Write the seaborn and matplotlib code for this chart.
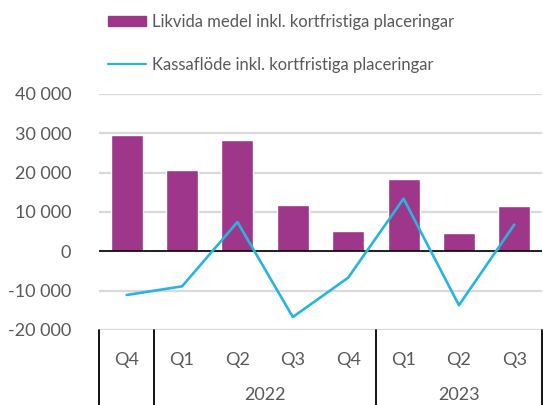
import matplotlib
matplotlib.use("Agg")
import matplotlib.pyplot as plt
import seaborn as sns
import pandas as pd
from matplotlib.lines import Line2D
from matplotlib.patches import Patch
from matplotlib.ticker import FuncFormatter

# ---- data ----
periods = ["2021 Q4", "2022 Q1", "2022 Q2", "2022 Q3", "2022 Q4", "2023 Q1", "2023 Q2", "2023 Q3"]
quarters = ["Q4", "Q1", "Q2", "Q3", "Q4", "Q1", "Q2", "Q3"]
years = ["2022", "2023"]
liquid = [29700, 20800, 28300, 11700, 5100, 18400, 4700, 11450]
cashflow = [-11100, -8900, 7450, -16700, -6700, 13400, -13700, 6800]
bar_label = "Likvida medel inkl. kortfristiga placeringar"
line_label = "Kassaflöde inkl. kortfristiga placeringar"

df = pd.DataFrame({"period": periods, "liquid": liquid, "cashflow": cashflow})
df["pos"] = range(len(df))

sns.set_theme(style="white")
plt.rcParams["font.family"] = ["Lato", "DejaVu Sans"]

BAR = "#9E3789"
LINE = "#29B4E0"
TXT = "#595959"

fig = plt.figure(figsize=(5.43, 4.05), dpi=100)
ax = fig.add_axes([99 / 543, 1 - 330 / 405, 443 / 543, 236 / 405])

sns.barplot(data=df, x="period", y="liquid", order=periods, color=BAR,
            width=0.58, saturation=1, ax=ax, zorder=2)
sns.lineplot(data=df, x="pos", y="cashflow", color=LINE, linewidth=1.9,
             ax=ax, zorder=3)

ax.set_xlim(-0.5, 7.5)
ax.set_ylim(-20000, 40000)
ax.set_yticks([-20000, -10000, 0, 10000, 20000, 30000, 40000])
ax.yaxis.set_major_formatter(FuncFormatter(
    lambda v, p: f"{int(v):,}".replace(",", " ")))
ax.grid(axis="y", color="#D9D9D9", linewidth=1.6, zorder=0)
ax.axhline(0, color="black", linewidth=1.2, zorder=2.5)
for s in ax.spines.values():
    s.set_visible(False)
ax.tick_params(axis="y", length=0, pad=20, labelsize=13, labelcolor=TXT)
ax.tick_params(axis="x", length=0, labelbottom=False)
ax.set_xlabel("")
ax.set_ylabel("")

# category axis
trans = ax.get_xaxis_transform()
for xb in [-0.5, 0.5, 4.5, 7.5]:
    ax.add_line(Line2D([xb, xb], [0, -0.35], transform=trans, color="black",
                       linewidth=1.3, clip_on=False))
for i, q in enumerate(quarters):
    ax.text(i, -30 / 236, q, transform=trans, ha="center", va="center",
            fontsize=13, color=TXT)
ax.text(2.5, -73 / 236, years[0], transform=trans, ha="center", va="bottom",
        fontsize=13, color=TXT)
ax.text(6.0, -73 / 236, years[1], transform=trans, ha="center", va="bottom",
        fontsize=13, color=TXT)

handles = [Patch(facecolor=BAR, edgecolor=BAR), Line2D([], [], color=LINE, linewidth=1.6)]
fig.legend(handles, [bar_label, line_label], loc="upper left",
           bbox_to_anchor=(108 / 543, 1 - 14 / 405), frameon=False,
           fontsize=12, labelcolor=TXT, handlelength=2.3, handleheight=0.55,
           handletextpad=0.35, labelspacing=1.6, borderpad=0, borderaxespad=0)

fig.savefig("out.png", dpi=100)
